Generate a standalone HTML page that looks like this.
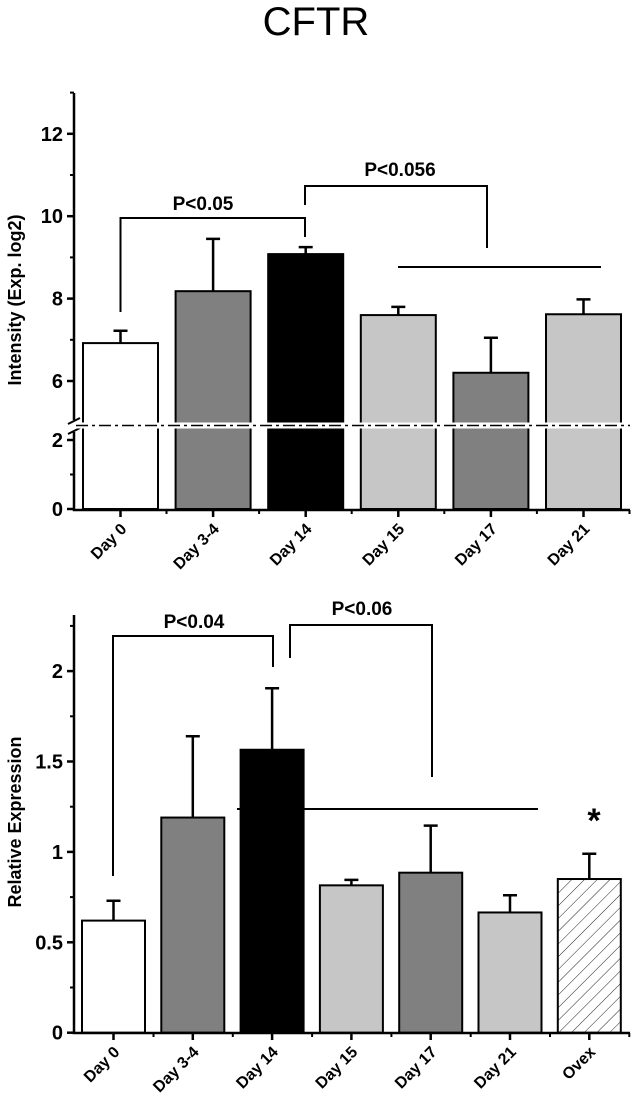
<!DOCTYPE html>
<html><head><meta charset="utf-8"><style>
html,body{margin:0;padding:0;background:#fff}
svg{display:block;font-family:"Liberation Sans",Arial,sans-serif}
</style></head><body>
<svg id="c" width="633" height="1109" viewBox="0 0 633 1109" xmlns="http://www.w3.org/2000/svg">
<defs><pattern id="hatch" patternUnits="userSpaceOnUse" width="9" height="9" patternTransform="rotate(45)"><rect width="9" height="9" fill="#fff"/><line x1="0" y1="0" x2="0" y2="9" stroke="#222" stroke-width="1"/></pattern></defs>
<text x="316" y="35" text-anchor="middle" font-size="40">CFTR</text>
<g id="top"></g><g id="bot"></g>
</svg>
<script>
const NS="http://www.w3.org/2000/svg";
const topCats=["Day 0","Day 3-4","Day 14","Day 15","Day 17","Day 21"];
const topVals=[6.92,8.18,9.08,7.6,6.2,7.62];
const topErr=[0.3,1.27,0.17,0.2,0.85,0.36];
const topFills=["#fff","#808080","#000","#c6c6c6","#808080","#c6c6c6"];
const topTicksHi=[6,8,10,12];
const topTicksLo=[0,2];
const botCats=["Day 0","Day 3-4","Day 14","Day 15","Day 17","Day 21","Ovex"];
const botVals=[0.62,1.19,1.565,0.815,0.885,0.665,0.85];
const botErr=[0.11,0.45,0.34,0.03,0.26,0.095,0.14];
const botFills=["#fff","#808080","#000","#c6c6c6","#808080","#c6c6c6","url(#hatch)"];
const botTicks=[0,0.5,1,1.5,2];

function el(p,t,a){const e=document.createElementNS(NS,t);for(const k in a)e.setAttribute(k,a[k]);p.appendChild(e);return e;}
function txt(p,x,y,s,a){const e=el(p,"text",Object.assign({x:x,y:y,"font-weight":"bold"},a));e.textContent=s;return e;}

// TOP chart
const T=document.getElementById("top");
const tx=i=>120.5+i*92.6;
const ty=v=> v>=4.9 ? 381-(v-6)*41.2 : 509-v*34.5;
const tbw=75;
el(T,"line",{x1:398,y1:267,x2:601,y2:267,stroke:"#000","stroke-width":2,});
topVals.forEach((v,i)=>{
  const r=el(T,"rect",{x:tx(i)-tbw/2,y:ty(v),width:tbw,height:509-ty(v),fill:topFills[i],stroke:"#000","stroke-width":2});
  
  
  const e=el(T,"path",{d:`M${tx(i)} ${ty(v)}V${ty(v+topErr[i])}M${tx(i)-7} ${ty(v+topErr[i])}H${tx(i)+7}`,stroke:"#000","stroke-width":2.5,fill:"none"});
  
  
});
el(T,"path",{d:"M74 93V420M74 432V510H630",stroke:"#000","stroke-width":2.5,fill:"none",});
el(T,"path",{d:"M68 424L80 418M68 434L80 428",stroke:"#000","stroke-width":2,});
el(T,"line",{x1:76,y1:425.5,x2:630,y2:425.5,stroke:"#fff","stroke-width":6,});
el(T,"line",{x1:76,y1:425.5,x2:630,y2:425.5,stroke:"#000","stroke-width":1.5,"stroke-dasharray":"12,4,3,4",});
topTicksHi.concat(topTicksLo).forEach(v=>{
  el(T,"line",{x1:67,y1:ty(v),x2:74,y2:ty(v),stroke:"#000","stroke-width":2.5});
  const t=txt(T,63,ty(v)+7,String(v),{"text-anchor":"end","font-size":20});
  
  
});
[7,9,11,13,1].forEach(v=>el(T,"line",{x1:70,y1:ty(v),x2:74,y2:ty(v),stroke:"#000","stroke-width":2}));
topCats.forEach((c,i)=>{
  el(T,"line",{x1:tx(i),y1:510,x2:tx(i),y2:517,stroke:"#000","stroke-width":2.5});
  el(T,"line",{x1:tx(i)+46,y1:510,x2:tx(i)+46,y2:514,stroke:"#000","stroke-width":2});
  const t=txt(T,tx(i)+7,530,c,{"text-anchor":"end","font-size":16,transform:`rotate(-45 ${tx(i)+7} 530)`});
  
  
});
txt(T,0,0,"Intensity (Exp. log2)",{"text-anchor":"middle","font-size":18,transform:"translate(21 300) rotate(-90)",});
el(T,"path",{d:"M120.5 312V218H305V237",stroke:"#000","stroke-width":2,fill:"none",});
txt(T,203,210,"P<0.05",{"text-anchor":"middle","font-size":19,});
el(T,"path",{d:"M305 205V186H487V248",stroke:"#000","stroke-width":2,fill:"none",});
txt(T,400,176,"P<0.056",{"text-anchor":"middle","font-size":19,});

// BOTTOM chart
const B=document.getElementById("bot");
const bx=i=>113.5+i*79.3;
const by=v=>1032.7-v*180.8;
const bbw=63;
el(B,"line",{x1:237,y1:809,x2:538,y2:809,stroke:"#000","stroke-width":2,});
botVals.forEach((v,i)=>{
  const r=el(B,"rect",{x:bx(i)-bbw/2,y:by(v),width:bbw,height:1032.7-by(v),fill:botFills[i],stroke:"#000","stroke-width":2});
  
  
  const e=el(B,"path",{d:`M${bx(i)} ${by(v)}V${by(v+botErr[i])}M${bx(i)-7} ${by(v+botErr[i])}H${bx(i)+7}`,stroke:"#000","stroke-width":2.5,fill:"none"});
  
  
});
el(B,"path",{d:"M74 615V1033H630",stroke:"#000","stroke-width":2.5,fill:"none",});
botTicks.forEach(v=>{
  el(B,"line",{x1:67,y1:by(v),x2:74,y2:by(v),stroke:"#000","stroke-width":2.5});
  const t=txt(B,63,by(v)+7,String(v),{"text-anchor":"end","font-size":20});
  
  
});
[0.25,0.75,1.25,1.75,2.25].forEach(v=>el(B,"line",{x1:70,y1:by(v),x2:74,y2:by(v),stroke:"#000","stroke-width":2}));
botCats.forEach((c,i)=>{
  el(B,"line",{x1:bx(i),y1:1033,x2:bx(i),y2:1040,stroke:"#000","stroke-width":2.5});
  el(B,"line",{x1:bx(i)+40,y1:1033,x2:bx(i)+40,y2:1037,stroke:"#000","stroke-width":2});
  const t=txt(B,bx(i)+7,1053,c,{"text-anchor":"end","font-size":16,transform:`rotate(-45 ${bx(i)+7} 1053)`});
  
  
});
txt(B,0,0,"Relative Expression",{"text-anchor":"middle","font-size":18,transform:"translate(21 822) rotate(-90)",});
el(B,"path",{d:"M113 876V636H273V667",stroke:"#000","stroke-width":2,fill:"none",});
txt(B,194,628,"P<0.04",{"text-anchor":"middle","font-size":19,});
el(B,"path",{d:"M290 658V625H432V777",stroke:"#000","stroke-width":2,fill:"none",});
txt(B,362,615,"P<0.06",{"text-anchor":"middle","font-size":19,});
txt(B,594,832,"*",{"text-anchor":"middle","font-size":34,});
</script>
</body></html>
